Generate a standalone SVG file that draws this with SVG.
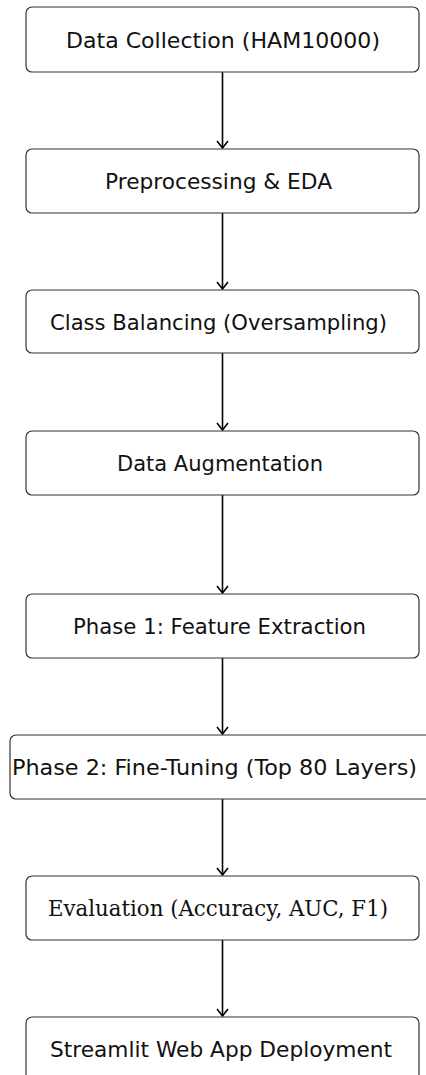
<svg xmlns="http://www.w3.org/2000/svg" width="426" height="1075" viewBox="0 0 426 1075">
<defs>
<style>
.box{fill:#fff;stroke:#333;stroke-width:1.2}
.t{font-family:"DejaVu Sans","Verdana",sans-serif;font-size:22px;fill:#111;text-anchor:middle}
.s{font-family:"DejaVu Serif","Liberation Serif",serif;font-size:23px;fill:#111;text-anchor:middle}
.c{stroke:#000;stroke-width:1.6;fill:none}
</style>
</defs>
<rect width="426" height="1075" fill="#fff"/>
<g id="connectors">
<line class="c" x1="222.5" y1="72" x2="222.5" y2="148"/>
<line class="c" x1="222.5" y1="213" x2="222.5" y2="289"/>
<line class="c" x1="222.5" y1="353" x2="222.5" y2="430"/>
<line class="c" x1="222.5" y1="495" x2="222.5" y2="593"/>
<line class="c" x1="222.5" y1="658" x2="222.5" y2="734"/>
<line class="c" x1="222.5" y1="799" x2="222.5" y2="875"/>
<line class="c" x1="222.5" y1="940" x2="222.5" y2="1016"/>
<path class="c" d="M217,141 L222.5,148 L228,141"/>
<path class="c" d="M217,282 L222.5,289 L228,282"/>
<path class="c" d="M217,423 L222.5,430 L228,423"/>
<path class="c" d="M217,586 L222.5,593 L228,586"/>
<path class="c" d="M217,727 L222.5,734 L228,727"/>
<path class="c" d="M217,868 L222.5,875 L228,868"/>
<path class="c" d="M217,1009 L222.5,1016 L228,1009"/>
</g>
<g id="n1"><rect class="box" x="26" y="7" width="393" height="65" rx="6"/><text class="t" x="223" y="48" textLength="314" lengthAdjust="spacingAndGlyphs">Data Collection (HAM10000)</text></g>
<g id="n2"><rect class="box" x="26" y="149" width="393" height="64" rx="6"/><text class="t" x="218.5" y="189" textLength="227" lengthAdjust="spacingAndGlyphs">Preprocessing &amp; EDA</text></g>
<g id="n3"><rect class="box" x="26" y="290" width="393" height="63" rx="6"/><text class="t" x="218.5" y="330" textLength="337" lengthAdjust="spacingAndGlyphs">Class Balancing (Oversampling)</text></g>
<g id="n4"><rect class="box" x="26" y="431" width="393" height="64" rx="6"/><text class="t" x="220" y="471" textLength="206" lengthAdjust="spacingAndGlyphs">Data Augmentation</text></g>
<g id="n5"><rect class="box" x="26" y="594" width="393" height="64" rx="6"/><text class="t" x="219.5" y="634" textLength="293" lengthAdjust="spacingAndGlyphs">Phase 1: Feature Extraction</text></g>
<g id="n6"><rect class="box" x="10" y="735" width="425" height="64" rx="6"/><text class="t" x="214.5" y="775" textLength="405" lengthAdjust="spacingAndGlyphs">Phase 2: Fine-Tuning (Top 80 Layers)</text></g>
<g id="n7"><rect class="box" x="26" y="876" width="393" height="64" rx="6"/><text class="s" x="218" y="916" textLength="340" lengthAdjust="spacingAndGlyphs">Evaluation (Accuracy, AUC, F1)</text></g>
<g id="n8"><rect class="box" x="26" y="1017" width="393" height="64" rx="6"/><text class="t" x="221" y="1057" textLength="342" lengthAdjust="spacingAndGlyphs">Streamlit Web App Deployment</text></g>
</svg>
